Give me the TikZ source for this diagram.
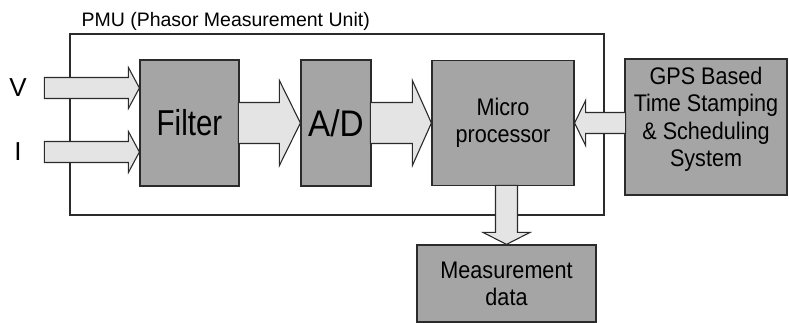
\documentclass[tikz,border=0pt]{standalone}
\usepackage{fontspec}
\setmainfont{Liberation Sans}
\newfontfamily\narrowfont[FakeStretch=0.82]{Liberation Sans}
\newfontfamily\boxfont[FakeStretch=0.9]{Liberation Sans}
\usetikzlibrary{calc,positioning}
\definecolor{boxc}{HTML}{A5A5A5}
\definecolor{arrc}{HTML}{E4E4E4}
\definecolor{linec}{HTML}{2B2B2B}
\tikzset{
  box/.style={draw=linec,line width=1.2pt,fill=boxc,align=center,inner sep=0pt},
  blk/.style={draw=linec,line width=1.1pt,fill=arrc,line join=miter},
  frm/.style={draw=linec,line width=1.1pt}
}
% block arrow: angle, tip, length, shaft half, head half, head length
\newcommand{\blkarrow}[6]{%
  \filldraw[blk,shift={(#2)},rotate=#1] (0,0) -- (-#6,#5) -- (-#6,#4) -- (-#3,#4) -- (-#3,-#4) -- (-#6,-#4) -- (-#6,-#5) -- cycle;}

\begin{document}
\begin{tikzpicture}[x=1pt,y=1pt]
\useasboundingbox (0,0) rectangle (789,323);
% PMU frame
\draw[frm] (70,108) rectangle (604,289);
\node[anchor=west,font=\fontsize{19.5}{22}\selectfont] (pmu) at (78,302) {PMU (Phasor Measurement Unit)};
% blocks
\node[box,minimum width=99pt,minimum height=126pt,font=\narrowfont\fontsize{36}{38}\selectfont] (filter) at (189.5,200) {Filter};
\node[box,minimum width=70pt,minimum height=126pt,font=\boxfont\fontsize{37}{38}\selectfont] (ad) at (336,200) {A/D};
\node[box,minimum width=142pt,minimum height=125pt,font=\boxfont\fontsize{24}{27}\selectfont] (micro) at (503,200) {Micro\\processor};
\node[box,minimum width=162pt,minimum height=136pt,font=\boxfont\fontsize{24}{27.5}\selectfont,text depth=20pt] (gps) at (706,196) {GPS Based\\Time Stamping\\\& Scheduling\\System};
\node[box,minimum width=179pt,minimum height=77pt,font=\boxfont\fontsize{24}{27}\selectfont] (meas) at (506.5,39.5) {Measurement\\data};
% inputs
\node[font=\fontsize{26}{28}\selectfont] (vlab) at (18,235) {V};
\node[font=\fontsize{26}{28}\selectfont] (ilab) at (18,171) {I};
\coordinate (vtip) at (filter.west |- vlab);
\coordinate (itip) at (filter.west |- ilab);
% arrows
\blkarrow{0}{vtip}{95}{10.5}{20.5}{11}
\blkarrow{0}{itip}{95}{10.5}{20.5}{11}
\blkarrow{0}{ad.west}{62}{20.5}{42.5}{21}
\blkarrow{0}{micro.west}{61}{20.5}{42.5}{19}
\blkarrow{180}{micro.east}{51}{10.5}{22.5}{11}
\blkarrow{-90}{meas.north}{59}{11}{23.5}{12}
\end{tikzpicture}
\end{document}
